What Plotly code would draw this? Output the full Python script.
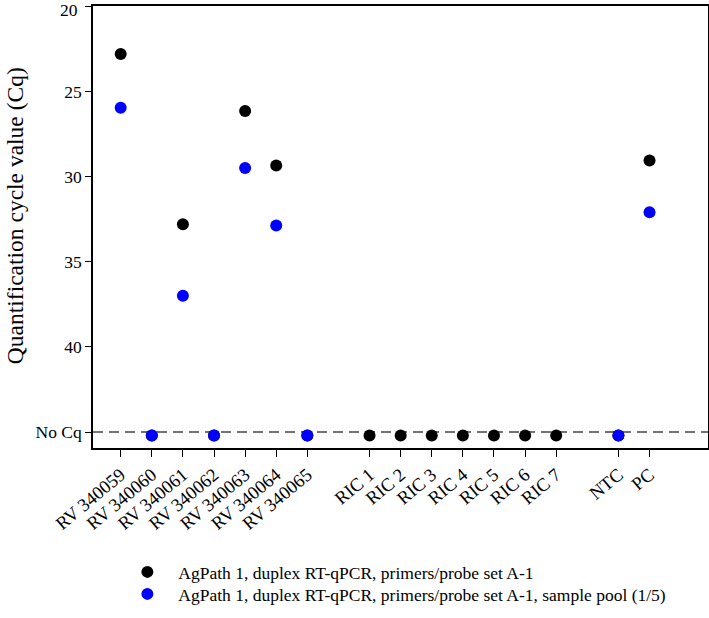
import plotly.graph_objects as go

rv_samples = ["RV 340059", "RV 340060", "RV 340061", "RV 340062", "RV 340063", "RV 340064", "RV 340065"]
ric_samples = ["RIC 1", "RIC 2", "RIC 3", "RIC 4", "RIC 5", "RIC 6", "RIC 7"]
controls = ["NTC", "PC"]

NO_CQ = 45.2  # plotted value for samples without Cq

# series 1: AgPath 1, duplex RT-qPCR, primers/probe set A-1
black_rv = [22.8, NO_CQ, 32.8, NO_CQ, 26.15, 29.35, NO_CQ]
black_ric = [NO_CQ] * 7
black_ctrl = [NO_CQ, 29.05]

# series 2: ... sample pool (1/5)
blue_rv = [25.95, NO_CQ, 37.0, NO_CQ, 29.5, 32.87, NO_CQ]
blue_ric = [None] * 7
blue_ctrl = [NO_CQ, 32.1]

ytick_vals = [20, 25, 30, 35, 40, 45]
ytick_text = ["20", "25", "30", "35", "40", "No Cq"]

# positions: groups separated by one empty slot
groups = [rv_samples, ric_samples, controls]
labels, xpos = [], []
p = 0
for g in groups:
    for name in g:
        labels.append(name)
        xpos.append(p)
        p += 1
    p += 1

black = black_rv + black_ric + black_ctrl
blue = blue_rv + blue_ric + blue_ctrl

font = "Liberation Serif, Times New Roman, serif"

fig = go.Figure()
fig.add_trace(go.Scatter(
    x=xpos, y=black, mode="markers",
    marker=dict(color="black", size=12),
    name="AgPath 1, duplex RT-qPCR, primers/probe set A-1", legend="legend"))
fig.add_trace(go.Scatter(
    x=xpos, y=blue, mode="markers",
    marker=dict(color="#0000FF", size=12),
    name="AgPath 1, duplex RT-qPCR, primers/probe set A-1, sample pool (1/5)", legend="legend2"))

fig.add_shape(type="line", xref="paper", x0=0, x1=1, yref="y", y0=45, y1=45,
              line=dict(color="#444444", width=1.3, dash="10px,6px"), layer="below")

fig.add_annotation(text="Quantification cycle value (Cq)", textangle=-90,
                   xref="paper", yref="paper", x=-0.1265, y=0.525,
                   xanchor="center", yanchor="middle", showarrow=False,
                   font=dict(family=font, size=23.5, color="black"))

# top tick label drawn as an annotation so it is not clipped by the page edge
fig.add_annotation(text=ytick_text[0], xref="paper", yref="paper", x=0, y=1,
                   xanchor="right", yanchor="top", xshift=-13, yshift=8,
                   showarrow=False, font=dict(family=font, size=17.5, color="black"))

leg_common = dict(xanchor="left", yanchor="middle", font=dict(family=font, size=17.5),
                  itemsizing="constant", itemwidth=52, bgcolor="rgba(0,0,0,0)")
fig.update_layout(
    width=709, height=618,
    margin=dict(l=93, r=1, t=6, b=170, autoexpand=False),
    plot_bgcolor="white", paper_bgcolor="white",
    font=dict(family=font, size=17.5, color="black"),
    showlegend=True,
    legend=dict(x=0.038, y=(448 - 572) / 442, **leg_common),
    legend2=dict(x=0.038, y=(448 - 594) / 442, **leg_common),
)
fig.update_xaxes(
    range=[-0.89, 18.88], tickvals=xpos, ticktext=labels, tickangle=-40,
    showline=True, linecolor="black", linewidth=1.5, mirror=True,
    ticks="outside", ticklen=7, tickcolor="black", showgrid=False, zeroline=False,
    tickfont=dict(family=font, size=18.5), automargin=False)
fig.update_yaxes(
    range=[45.94, 19.98], tickvals=ytick_vals, ticktext=[""] + ytick_text[1:],
    showline=True, linecolor="black", linewidth=1.5, mirror=True,
    ticks="outside", ticklen=6, tickcolor="black", showgrid=False, zeroline=False,
    tickfont=dict(family=font, size=17.5), automargin=False)

fig.write_html("out.html", config={"displayModeBar": False},
               post_script="document.body.style.margin='0';document.body.style.overflow='hidden';")
